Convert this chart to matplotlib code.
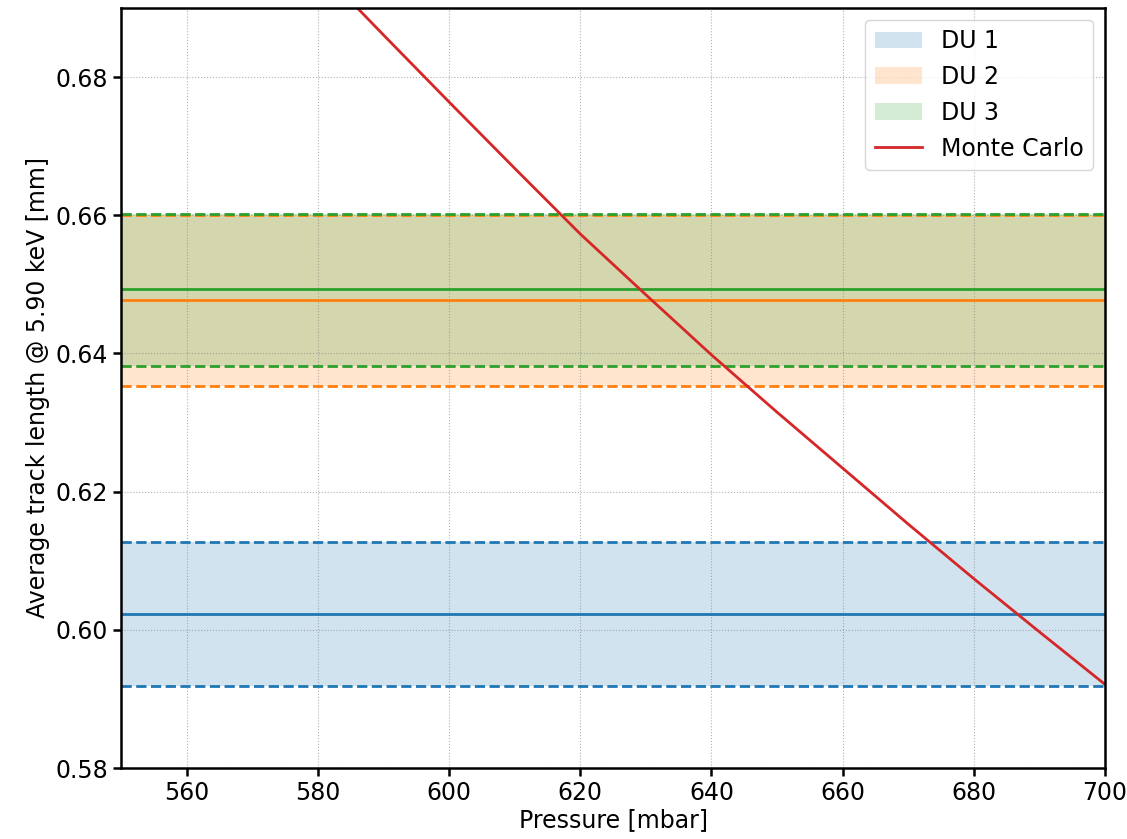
import numpy as np
import matplotlib
matplotlib.use('Agg')
import matplotlib.pyplot as plt

# measured track length per detector unit: mean and 1-sigma band [mm]
du_names = ['DU 1', 'DU 2', 'DU 3']
du_mean = [0.6023, 0.6477, 0.6493]
du_low = [0.5919, 0.6353, 0.6382]
du_high = [0.6127, 0.6601, 0.6602]
du_colors = ['tab:blue', 'tab:orange', 'tab:green']

# Monte Carlo prediction vs pressure
mc_pressure = [580, 590, 600, 610, 620, 630, 640, 650, 660, 670, 680, 690, 700]
mc_length = [0.6959, 0.6861, 0.6764, 0.6668, 0.6573, 0.6485, 0.6398, 0.6315,
             0.6234, 0.6153, 0.6074, 0.5997, 0.5921]

plt.rcParams['font.size'] = 17

fig = plt.figure(figsize=(11.27, 8.39), dpi=100)
ax = fig.add_axes([0.1074, 0.0846, 0.8731, 0.9059])

xmin, xmax = 550, 700
for name, m, lo, hi, c in zip(du_names, du_mean, du_low, du_high, du_colors):
    ax.fill_between([xmin, xmax], lo, hi, color=c, alpha=0.2, lw=0, label=name)
    ax.axhline(m, color=c, lw=2)
    ax.axhline(lo, color=c, lw=2, ls='--')
    ax.axhline(hi, color=c, lw=2, ls='--')

ax.plot(mc_pressure, mc_length, color='tab:red', lw=2, label='Monte Carlo')

ax.set_xlim(xmin, xmax)
ax.set_ylim(0.58, 0.69)
ax.set_xticks(np.arange(560, 701, 20))
ax.set_yticks(np.arange(0.58, 0.681, 0.02))
ax.grid(ls=':', color='gray', alpha=0.6)
for s in ax.spines.values():
    s.set_linewidth(1.8)
ax.tick_params(width=1.8, length=6)
ax.set_xlabel('Pressure [mbar]', labelpad=2)
ax.set_ylabel('Average track length @ 5.90 keV [mm]')
ax.legend(loc='upper right')

fig.savefig('out.png', dpi=100)
